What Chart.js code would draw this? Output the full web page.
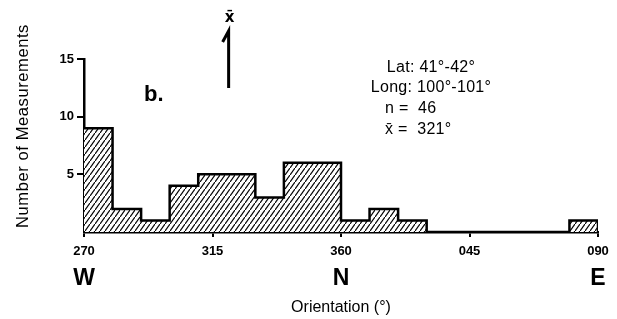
<!DOCTYPE html>
<html>
<head>
<meta charset="utf-8">
<style>
  html, body { margin: 0; padding: 0; background: #fff; }
  #wrap { width: 617px; height: 319px; }
</style>
<script src="https://cdn.jsdelivr.net/npm/chart.js@4/dist/chart.umd.min.js"></script>
</head>
<body>
<div id="wrap"><canvas id="hist" width="617" height="319"></canvas></div>
<script>
// bin edges in degrees (270 -> 450 = 090), 10 deg bins
const binEdges = [270, 280, 290, 300, 310, 320, 330, 340, 350, 360,
                  370, 380, 390, 400, 410, 420, 430, 440, 450];
const counts = [9, 2, 1, 4, 5, 5, 3, 6, 6, 1, 2, 1, 0, 0, 0, 0, 0, 1];
const xTickValues = [270, 315, 360, 405, 450];
const xTickLabels = ['270', '315', '360', '045', '090'];
const yTickValues = [5, 10, 15];
const compass = [[270, 'W'], [360, 'N'], [450, 'E']];
const meanDir = 321;
const infoLines = ['Lat: 41°-42°', 'Long: 100°-101°', 'n =  46', 'x̄ =  321°'];

// hatch pattern
function makeHatch(){
  const c = document.createElement('canvas');
  c.width = 5; c.height = 7;
  const g = c.getContext('2d');
  g.fillStyle = '#fff';
  g.fillRect(0, 0, 5, 7);
  g.strokeStyle = '#000';
  g.lineWidth = 1.2;
  g.beginPath();
  g.moveTo(-1, 8.4); g.lineTo(6, -1.4);
  g.stroke();
  return document.getElementById('hist').getContext('2d').createPattern(c, 'repeat');
}

const points = counts.map((v, i) => ({ x: binEdges[i], y: v }));
points.push({ x: binEdges[binEdges.length - 1], y: 0 });

const sans = '"Liberation Sans", Arial, sans-serif';

const extras = {
  id: 'extras',
  afterDraw(chart){
    const ctx = chart.ctx;
    const x = chart.scales.x;
    ctx.save();
    ctx.fillStyle = '#000';
    ctx.textAlign = 'center';
    ctx.textBaseline = 'alphabetic';

    // compass letters
    ctx.font = 'bold 23px ' + sans;
    compass.forEach(([v, t]) => ctx.fillText(t, x.getPixelForValue(v), 285));

    // axis titles
    ctx.font = '16px ' + sans;
    ctx.fillText('Orientation (°)', (chart.chartArea.left + chart.chartArea.right) / 2, 312);
    ctx.save();
    ctx.translate(28, 126);
    ctx.rotate(-Math.PI / 2);
    ctx.font = '16.5px ' + sans;
    ctx.letterSpacing = '0.6px';
    ctx.fillText('Number of Measurements', 0, 0);
    ctx.restore();

    // panel label
    ctx.font = 'bold 22px ' + sans;
    ctx.textAlign = 'left';
    ctx.fillText('b.', 144, 101);

    // info block
    ctx.font = '16px ' + sans;
    ctx.letterSpacing = '0.3px';
    ctx.textAlign = 'center';
    ctx.fillText(infoLines[0], 431, 72);
    ctx.fillText(infoLines[1], 431, 92);
    ctx.textAlign = 'left';
    ctx.fillText(infoLines[2], 385, 113);
    ctx.fillText(infoLines[3], 385, 134);
    ctx.letterSpacing = '0px';

    // mean direction arrow
    const mx = x.getPixelForValue(meanDir) - 1;
    ctx.strokeStyle = '#000';
    ctx.lineWidth = 3;
    ctx.beginPath();
    ctx.moveTo(mx, 88);
    ctx.lineTo(mx, 31);
    ctx.lineTo(mx - 6, 42);
    ctx.stroke();
    ctx.font = 'bold 15px "DejaVu Sans", sans-serif';
    ctx.textAlign = 'center';
    ctx.fillText('x̄', mx + 1, 22);
    ctx.restore();
  }
};

new Chart(document.getElementById('hist'), {
  type: 'line',
  data: {
    datasets: [{
      data: points,
      stepped: true,
      borderColor: '#000',
      borderWidth: 2.5,
      backgroundColor: makeHatch(),
      fill: 'origin',
      pointRadius: 0,
      tension: 0
    }]
  },
  options: {
    responsive: false,
    animation: false,
    events: [],
    layout: { padding: { left: 0, right: 19, top: 59, bottom: 0 } },
    plugins: { legend: { display: false }, tooltip: { enabled: false } },
    scales: {
      x: {
        type: 'linear',
        min: 270, max: 450,
        afterBuildTicks: s => { s.ticks = xTickValues.map(v => ({ value: v })); },
        afterFit: s => { s.height = 87; },
        ticks: {
          callback: (v) => xTickLabels[xTickValues.indexOf(v)],
          color: '#000',
          font: { family: sans, size: 13, weight: 'bold' },
          padding: 7,
          maxRotation: 0
        },
        grid: { display: true, drawOnChartArea: false, drawTicks: true, tickLength: 5, color: '#000', lineWidth: 2 },
        border: { display: true, color: '#000', width: 2.5 }
      },
      y: {
        min: 0, max: 15,
        afterBuildTicks: s => { s.ticks = yTickValues.map(v => ({ value: v })); },
        afterFit: s => { s.width = 84; },
        ticks: {
          color: '#000',
          font: { family: sans, size: 13, weight: 'bold' },
          padding: 3
        },
        grid: { display: true, drawOnChartArea: false, drawTicks: true, tickLength: 7, color: '#000', lineWidth: 2 },
        border: { display: true, color: '#000', width: 2.5 }
      }
    }
  },
  plugins: [extras]
});
</script>
</body>
</html>
